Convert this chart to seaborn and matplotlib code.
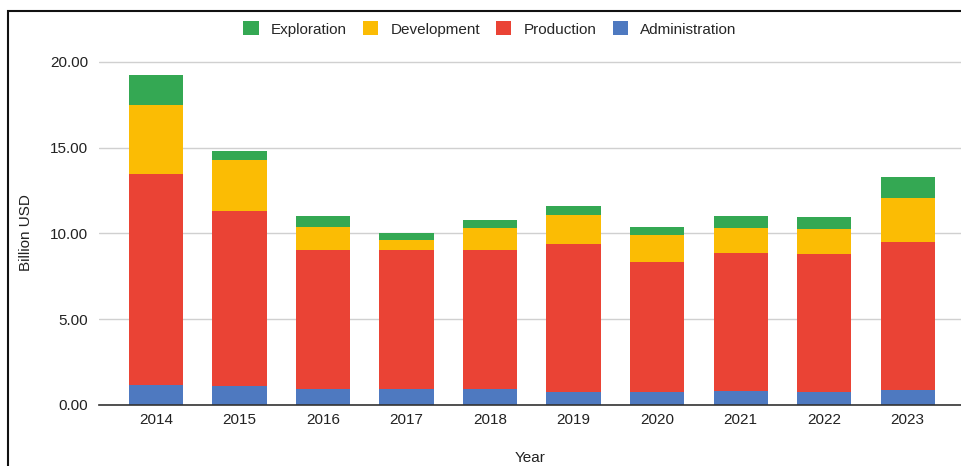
import matplotlib
matplotlib.use("Agg")
import matplotlib.pyplot as plt
from matplotlib.patches import Rectangle, Patch
import seaborn as sns
import pandas as pd
import numpy as np

years = ["2014", "2015", "2016", "2017", "2018", "2019", "2020", "2021", "2022", "2023"]
administration = [1.16, 1.10, 0.95, 0.95, 0.95, 0.74, 0.74, 0.80, 0.74, 0.89]
production = [12.29, 10.20, 8.06, 8.06, 8.06, 8.64, 7.57, 8.08, 8.06, 8.63]
development = [4.05, 3.00, 1.36, 0.58, 1.28, 1.71, 1.57, 1.41, 1.43, 2.55]
exploration = [1.74, 0.50, 0.63, 0.41, 0.52, 0.50, 0.49, 0.71, 0.70, 1.20]

series_names = ["Exploration", "Development", "Production", "Administration"]
colors = {"Exploration": "#34A853", "Development": "#FBBC04",
          "Production": "#EA4335", "Administration": "#4E79C0"}

sns.set_theme(style="white")
plt.rcParams['font.family'] = ['Liberation Sans', 'DejaVu Sans']

fig = plt.figure(figsize=(9.62, 4.66), dpi=100)
ax = fig.add_axes([99/962, (466-405)/466, (962-99)/962, (405-61)/466])

df = pd.DataFrame({"Year": years, "Administration": administration,
                   "Production": production, "Development": development,
                   "Exploration": exploration})
cum = df[["Administration", "Production", "Development", "Exploration"]].cumsum(axis=1)

for name in ["Exploration", "Development", "Production", "Administration"]:
    sns.barplot(x=df["Year"], y=cum[name], color=colors[name], width=0.65,
                ax=ax, saturation=1, linewidth=0, order=years)

ax.set_xlim(-0.683, 9.65)
ax.set_ylim(0, 20.05)
ax.set_yticks([0, 5, 10, 15, 20])
ax.set_yticklabels(["0.00", "5.00", "10.00", "15.00", "20.00"])
ax.yaxis.grid(True, color="#d0d0d0", linewidth=1)
ax.set_axisbelow(True)
for s in ["top", "right", "left"]:
    ax.spines[s].set_visible(False)
ax.spines["bottom"].set_color("#333333")
ax.spines["bottom"].set_linewidth(1.2)
ax.tick_params(axis="both", length=0, labelsize=11, colors="#222222")
ax.tick_params(axis="y", pad=8)
ax.tick_params(axis="x", pad=6)
ax.set_xlabel("Year", fontsize=11, color="#222222", labelpad=17)
ax.set_ylabel("Billion USD", fontsize=11, color="#222222", labelpad=12)

handles = [Patch(facecolor=colors[n], edgecolor="none") for n in series_names]
fig.legend(handles, series_names, loc="center", ncol=4,
           bbox_to_anchor=(490/962, 1 - 29/466), frameon=False,
           fontsize=11, handlelength=1.0, handleheight=1.0,
           handletextpad=0.8, columnspacing=1.05)

# outer border
fig.add_artist(Rectangle((8/962, -0.1), 1.2, 1 - 11/466 + 0.1,
                         transform=fig.transFigure, fill=False,
                         edgecolor="#111111", linewidth=1.5))

fig.savefig("out.png", dpi=100)
